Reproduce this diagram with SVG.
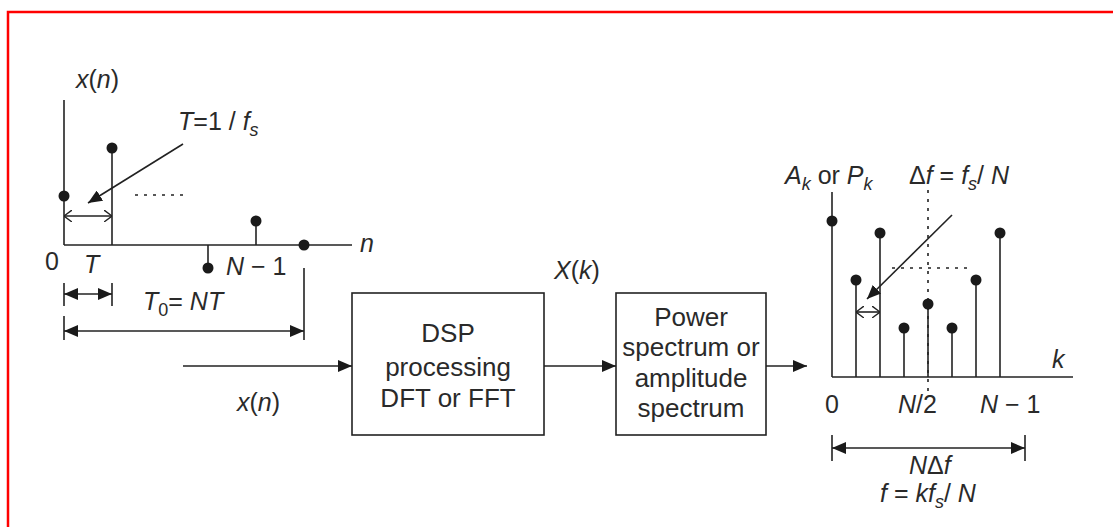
<svg xmlns="http://www.w3.org/2000/svg" width="1113" height="527" viewBox="0 0 1113 527">
<style>
.ln{stroke:#222;stroke-width:1.6;fill:none}
.dot{fill:#1a1a1a}
.dt{stroke:#222;stroke-width:1.6;stroke-dasharray:3 6;fill:none}
.t{font-family:"Liberation Sans",Arial,sans-serif;fill:#2a2a2a;font-size:25px}
.i{font-style:italic}
.sub{font-size:18px}
.bx{stroke:#222;stroke-width:1.6;fill:#fff}
.bt{font-family:"Liberation Sans",Arial,sans-serif;fill:#2a2a2a;font-size:26px;text-anchor:middle}
</style>
<defs>
<marker id="fa" viewBox="0 0 14 12" refX="14" refY="6" markerWidth="14" markerHeight="12" markerUnits="userSpaceOnUse" orient="auto-start-reverse"><path d="M0,0 L14,6 L0,12 Z" fill="#1a1a1a"/></marker>
<marker id="oa" viewBox="0 0 8 12" refX="8" refY="6" markerWidth="8" markerHeight="12" markerUnits="userSpaceOnUse" orient="auto-start-reverse"><path d="M0,0 L8,6 L0,12" fill="none" stroke="#222" stroke-width="1.4"/></marker>
</defs>
<rect x="8" y="12" width="1120" height="530" fill="none" stroke="#f00" stroke-width="2.5"/>

<g id="time-plot">
<line class="ln" x1="64" y1="100" x2="64" y2="245"/>
<line class="ln" x1="64" y1="245" x2="352" y2="245"/>
<line class="ln" x1="112" y1="148" x2="112" y2="245"/>
<line class="ln" x1="208" y1="245" x2="208" y2="268"/>
<line class="ln" x1="256" y1="221" x2="256" y2="245"/>
<circle class="dot" cx="64" cy="196" r="5.5"/>
<circle class="dot" cx="112" cy="148" r="5.5"/>
<circle class="dot" cx="208" cy="268" r="5.5"/>
<circle class="dot" cx="256" cy="221" r="5.5"/>
<circle class="dot" cx="304" cy="245" r="5.5"/>
<line class="dt" x1="135" y1="195" x2="186" y2="195"/>
<line class="ln" x1="64" y1="216" x2="112" y2="216" marker-start="url(#oa)" marker-end="url(#oa)"/>
<line class="ln" x1="183" y1="144" x2="88" y2="203" marker-end="url(#fa)"/>
<text class="t i" x="76" y="88">x<tspan font-style="normal">(</tspan>n<tspan font-style="normal">)</tspan></text>
<text class="t" x="178" y="130"><tspan class="i">T</tspan>=1 / <tspan class="i">f</tspan><tspan class="sub i" dy="6">s</tspan></text>
<text class="t i" x="360" y="252">n</text>
<text class="t" x="45" y="270">0</text>
<text class="t i" x="84" y="273">T</text>
<text class="t" x="226" y="275"><tspan class="i">N</tspan> − 1</text>
<line class="ln" x1="64" y1="283" x2="64" y2="306"/>
<line class="ln" x1="112" y1="283" x2="112" y2="306"/>
<line class="ln" x1="64" y1="294" x2="112" y2="294" marker-start="url(#fa)" marker-end="url(#fa)"/>
<text class="t" x="143" y="310"><tspan class="i">T</tspan><tspan class="sub" dy="6">0</tspan><tspan dy="-6">= </tspan><tspan class="i">NT</tspan></text>
<line class="ln" x1="64" y1="316" x2="64" y2="340"/>
<line class="ln" x1="304" y1="268" x2="304" y2="340"/>
<line class="ln" x1="64" y1="331" x2="304" y2="331" marker-start="url(#fa)" marker-end="url(#fa)"/>
</g>

<g id="dsp-box">
<rect class="bx" x="352" y="293" width="192" height="142"/>
<text class="bt" x="448" y="342">DSP</text>
<text class="bt" x="448" y="376">processing</text>
<text class="bt" x="448" y="407">DFT or FFT</text>
</g>

<g id="power-box">
<rect class="bx" x="616" y="293" width="150" height="142"/>
<text class="bt" x="691" y="326">Power</text>
<text class="bt" x="691" y="356">spectrum or</text>
<text class="bt" x="691" y="387">amplitude</text>
<text class="bt" x="691" y="417">spectrum</text>
</g>

<g id="connectors">
<line class="ln" x1="183" y1="366" x2="352" y2="366" marker-end="url(#fa)"/>
<line class="ln" x1="544" y1="366" x2="616" y2="366" marker-end="url(#fa)"/>
<line class="ln" x1="766" y1="366" x2="807" y2="366" marker-end="url(#fa)"/>
<text class="t i" x="237" y="411">x<tspan font-style="normal">(</tspan>n<tspan font-style="normal">)</tspan></text>
<text class="t i" x="554" y="279">X<tspan font-style="normal">(</tspan>k<tspan font-style="normal">)</tspan></text>
</g>

<g id="freq-plot">
<line class="ln" x1="832" y1="192" x2="832" y2="377"/>
<line class="ln" x1="832" y1="377" x2="1073" y2="377"/>
<line class="dt" x1="928" y1="190" x2="928" y2="396"/>
<line class="dt" x1="892" y1="268" x2="968" y2="268"/>
<line class="ln" x1="856" y1="280" x2="856" y2="377"/>
<line class="ln" x1="880" y1="233" x2="880" y2="377"/>
<line class="ln" x1="904" y1="328" x2="904" y2="377"/>
<line class="ln" x1="928" y1="304" x2="928" y2="377"/>
<line class="ln" x1="952" y1="328" x2="952" y2="377"/>
<line class="ln" x1="976" y1="280" x2="976" y2="377"/>
<line class="ln" x1="1000" y1="233" x2="1000" y2="377"/>
<circle class="dot" cx="832" cy="221" r="5.5"/>
<circle class="dot" cx="856" cy="280" r="5.5"/>
<circle class="dot" cx="880" cy="233" r="5.5"/>
<circle class="dot" cx="904" cy="328" r="5.5"/>
<circle class="dot" cx="928" cy="304" r="5.5"/>
<circle class="dot" cx="952" cy="328" r="5.5"/>
<circle class="dot" cx="976" cy="280" r="5.5"/>
<circle class="dot" cx="1000" cy="233" r="5.5"/>
<line class="ln" x1="856" y1="312" x2="880" y2="312" marker-start="url(#oa)" marker-end="url(#oa)"/>
<line class="ln" x1="952" y1="215" x2="867" y2="299" marker-end="url(#fa)"/>
<text class="t" x="785" y="184"><tspan class="i">A</tspan><tspan class="sub i" dy="6">k</tspan><tspan dy="-6"> or </tspan><tspan class="i">P</tspan><tspan class="sub i" dy="6">k</tspan></text>
<text class="t" x="909" y="184">Δ<tspan class="i">f</tspan> = <tspan class="i">f</tspan><tspan class="sub i" dy="6">s</tspan><tspan dy="-6">/ </tspan><tspan class="i">N</tspan></text>
<text class="t i" x="1052" y="368">k</text>
<text class="t" x="825" y="413">0</text>
<text class="t" x="898" y="413"><tspan class="i">N</tspan>/2</text>
<text class="t" x="980" y="413"><tspan class="i">N</tspan> − 1</text>
<line class="ln" x1="832" y1="435" x2="832" y2="461"/>
<line class="ln" x1="1025" y1="435" x2="1025" y2="461"/>
<line class="ln" x1="832" y1="448" x2="1025" y2="448" marker-start="url(#fa)" marker-end="url(#fa)"/>
<text class="t" x="909" y="474" font-size="24"><tspan class="i">N</tspan>Δ<tspan class="i">f</tspan></text>
<text class="t" x="880" y="502" font-size="24"><tspan class="i">f</tspan> = <tspan class="i">kf</tspan><tspan class="sub i" dy="6">s</tspan><tspan dy="-6">/ </tspan><tspan class="i">N</tspan></text>
</g>
</svg>
